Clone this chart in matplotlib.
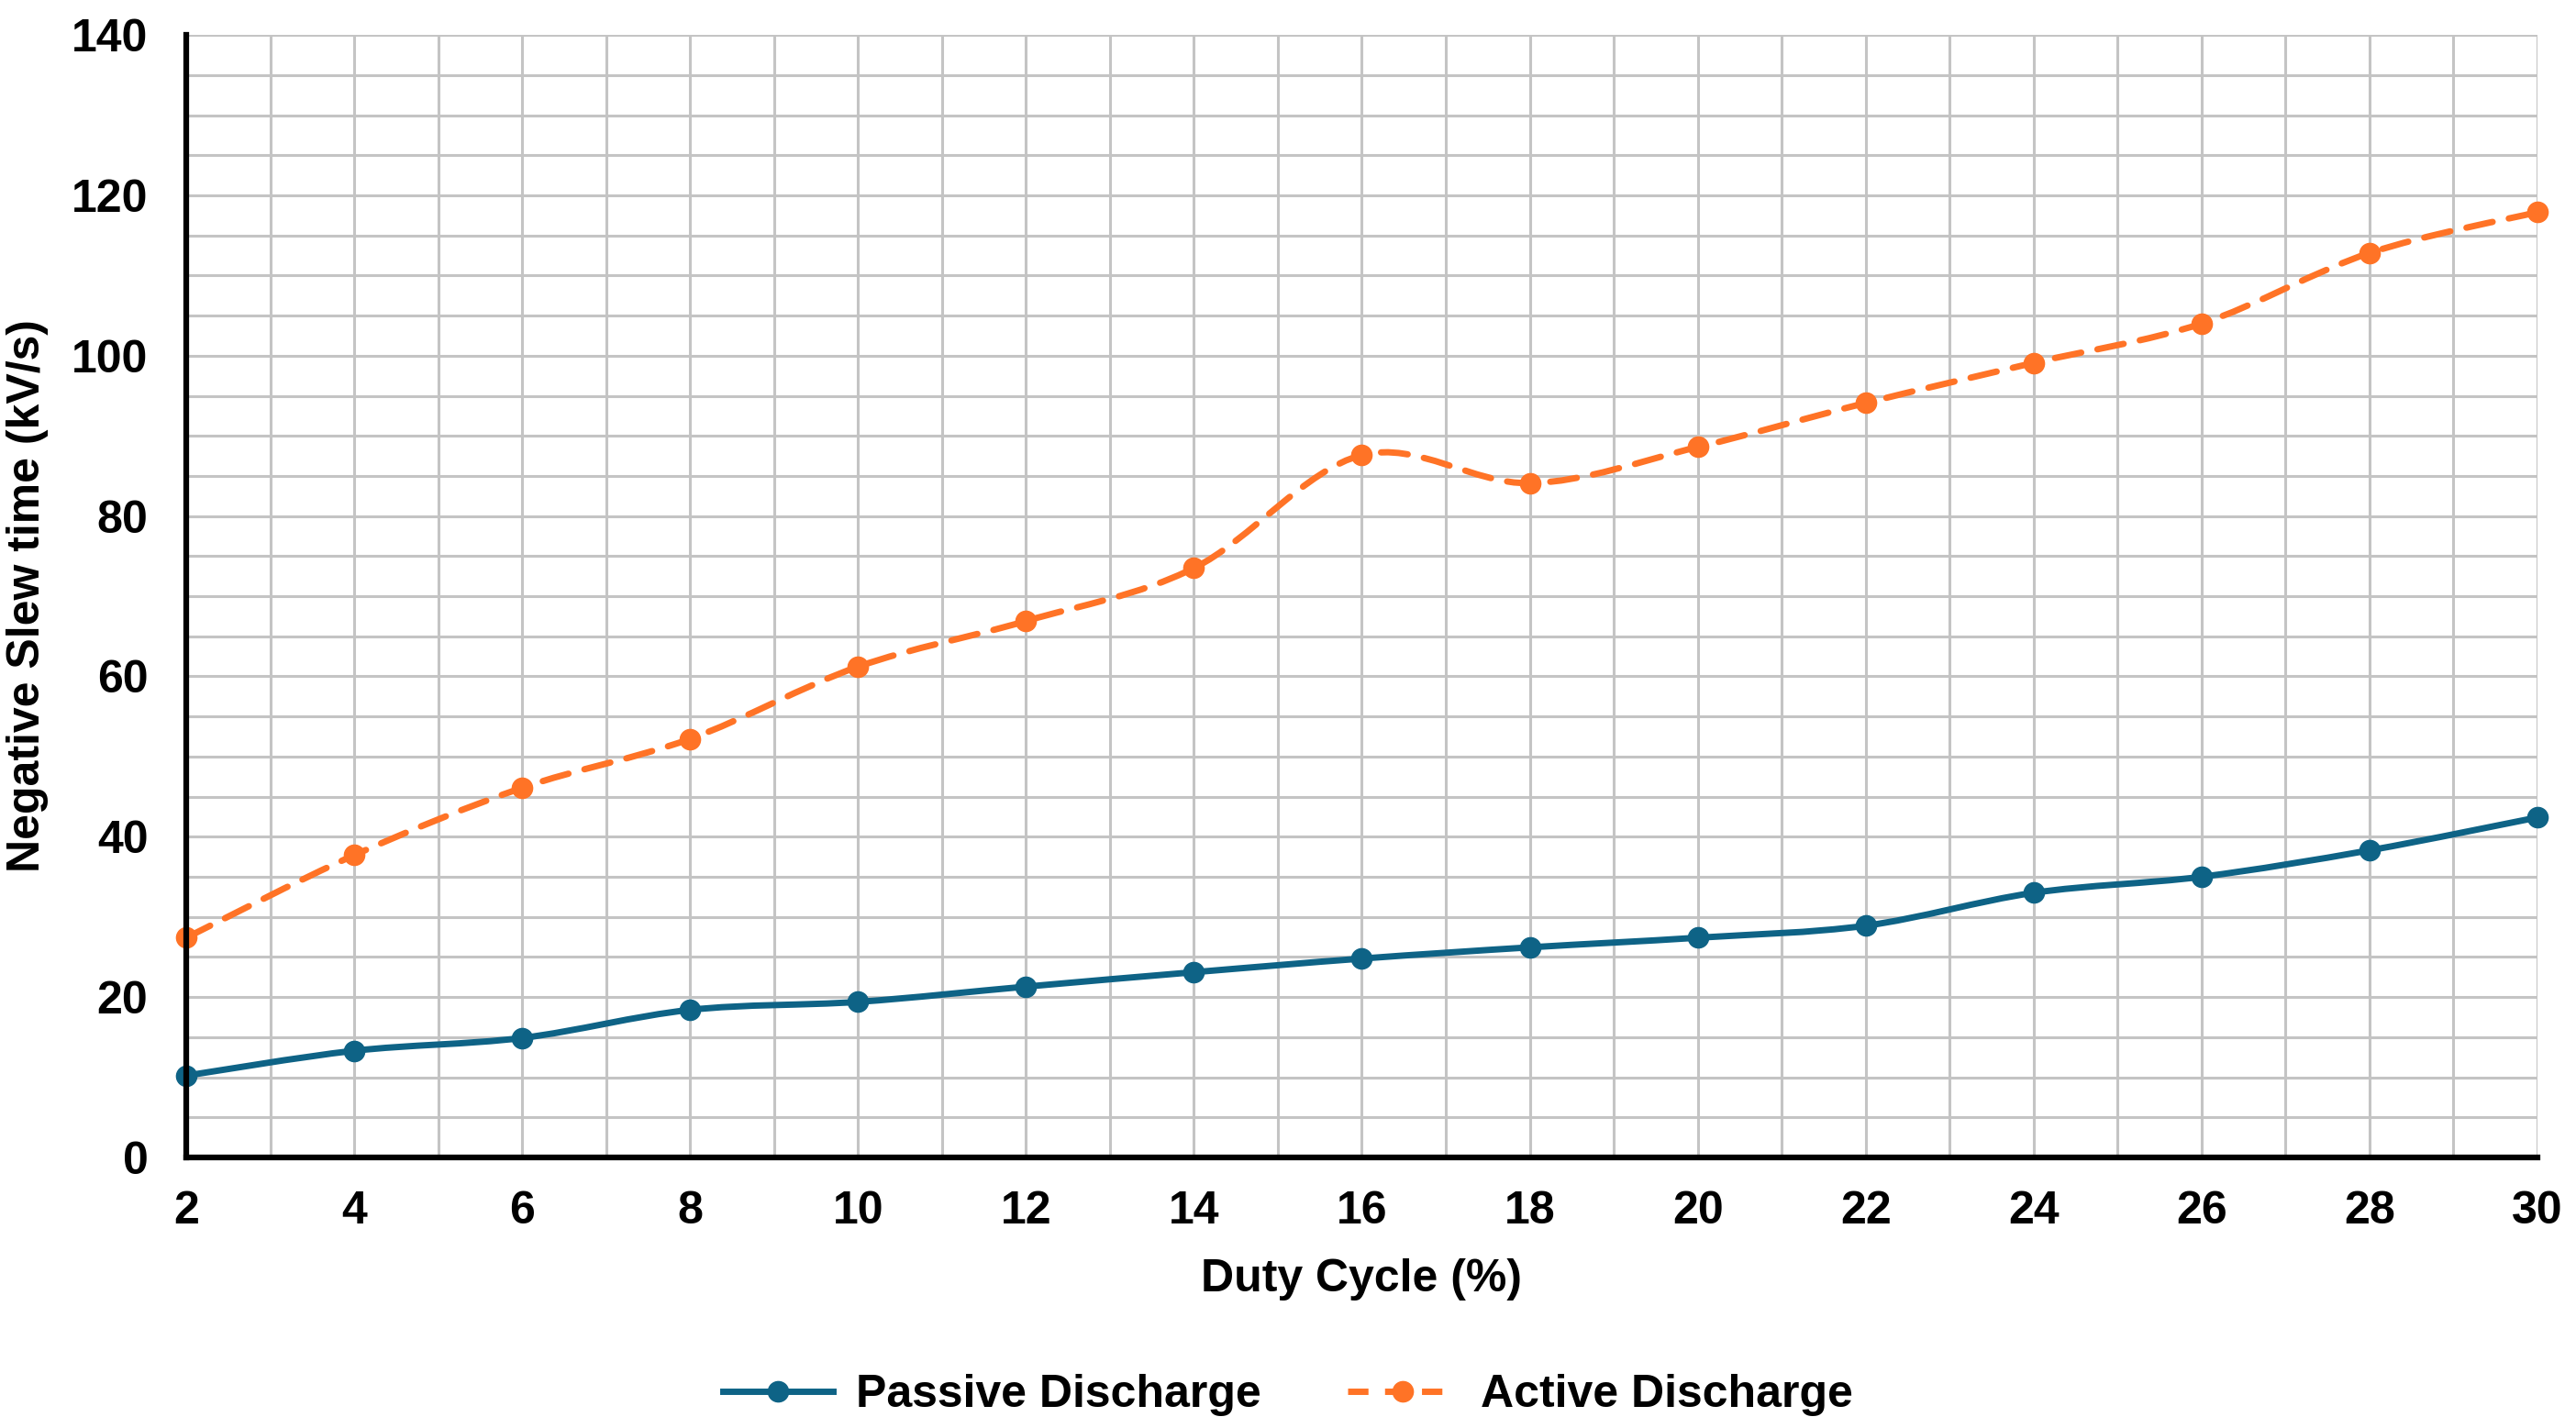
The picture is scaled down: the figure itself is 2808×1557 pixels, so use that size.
import matplotlib
matplotlib.use("Agg")
import matplotlib.pyplot as plt
from matplotlib.path import Path
from matplotlib.patches import PathPatch
from matplotlib.lines import Line2D
import numpy as np

plt.rcParams["font.family"] = ["Liberation Sans", "DejaVu Sans"]
plt.rcParams["font.weight"] = "bold"

# Data
duty_cycle = [2, 4, 6, 8, 10, 12, 14, 16, 18, 20, 22, 24, 26, 28, 30]
passive = [10.2, 13.3, 14.9, 18.4, 19.4, 21.3, 23.1, 24.8, 26.2, 27.4, 28.9, 33.0, 35.0, 38.3, 42.4]
active = [27.4, 37.7, 46.1, 52.2, 61.2, 66.9, 73.5, 87.6, 84.1, 88.6, 94.1, 99.1, 104.0, 112.8, 117.9]

passive_color = "#0E6386"
active_color = "#FF7326"
fs = 36


def smooth_path(x, y):
    # Excel-like smoothed line: cubic Bezier segments (Catmull-Rom style)
    pts = np.column_stack([x, y]).astype(float)
    n = len(pts)
    verts = [pts[0]]
    codes = [Path.MOVETO]
    for i in range(n - 1):
        p0 = pts[i - 1] if i > 0 else pts[i]
        p1 = pts[i]
        p2 = pts[i + 1]
        p3 = pts[i + 2] if i + 2 < n else pts[i + 1]
        c1 = p1 + (p2 - p0) / 6.0
        c2 = p2 - (p3 - p1) / 6.0
        verts += [c1, c2, p2]
        codes += [Path.CURVE4] * 3
    return Path(verts, codes)


fig = plt.figure(figsize=(28.08, 15.57), dpi=100)
ax = fig.add_axes([0.0723, 0.1895, 0.9127, 0.786])

ax.add_patch(PathPatch(smooth_path(duty_cycle, passive), fill=False,
                       edgecolor=passive_color, lw=5, zorder=3,
                       capstyle="round"))
ax.add_patch(PathPatch(smooth_path(duty_cycle, active), fill=False,
                       edgecolor=active_color, lw=5, zorder=3,
                       linestyle=(0, (4.2, 2.6)), capstyle="round"))
ax.plot(duty_cycle, passive, "o", color=passive_color, ms=16, zorder=4, clip_on=False)
ax.plot(duty_cycle, active, "o", color=active_color, ms=16, zorder=4, clip_on=False)

ax.set_xlim(2, 30)
ax.set_ylim(0, 140)
ax.set_xticks(range(2, 31, 2))
ax.set_yticks(range(0, 141, 20))
ax.set_xticks(range(2, 31, 1), minor=True)
ax.set_yticks(range(0, 141, 5), minor=True)
ax.grid(True, which="both", color="#c4c4c4", lw=2.2, zorder=0)
ax.tick_params(which="both", length=0)
ax.tick_params(axis="x", pad=26, labelsize=fs)
ax.tick_params(axis="y", pad=30, labelsize=fs)

for side in ["top", "right"]:
    ax.spines[side].set_visible(False)
for side in ["left", "bottom"]:
    ax.spines[side].set_linewidth(4.5)
    ax.spines[side].set_color("black")
    ax.spines[side].set_zorder(5)

ax.set_xlabel("Duty Cycle (%)", fontsize=fs, fontweight="bold", labelpad=20)
ax.set_ylabel("Negative Slew time (kV/s)", fontsize=fs, fontweight="bold", labelpad=18)

handles = [
    Line2D([], [], color=passive_color, lw=5, marker="o", ms=16),
    Line2D([], [], color=active_color, lw=5, marker="o", ms=16, linestyle=(0, (3.2, 2.6))),
]
fig.legend(handles, ["Passive Discharge", "Active Discharge"], loc="center",
           bbox_to_anchor=(0.5, 0.023), ncol=2, frameon=False,
           prop={"size": fs, "weight": "bold"}, handlelength=2.4,
           columnspacing=1.9, handletextpad=0.5)

fig.savefig("out.png", dpi=100)
